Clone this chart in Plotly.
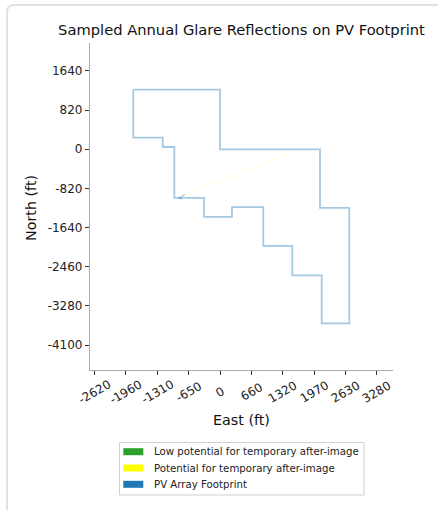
import plotly.graph_objects as go

# ---- data (feet) ----
fp_east = [-1815, 0, 0, 2093, 2093, 2706, 2706, 2129, 2129, 1513, 1513, 906, 906, 251, 251,
           -335, -335, -956, -956, -1199, -1199, -1815, -1815]
fp_north = [1249, 1249, 0, 0, -1228, -1228, -3646, -3646, -2642, -2642, -2023, -2023, -1213,
            -1213, -1416, -1416, -1019, -1019, 48, 48, 245, 245, 1249]

glare_east = [-837, 1528]
glare_north = [-998, -56]

mark_east = [-733, -873, -790]
mark_north = [-941, -1031, -1040]

x_tickvals = [-2624.67, -1968.5, -1312.34, -656.17, 0, 656.17, 1312.34, 1968.5, 2624.67, 3280.84]
x_ticktext = ["-2620", "-1960", "-1310", "-650", "0", "660", "1320", "1970", "2630", "3280"]
y_tickvals = [-4101.05, -3280.84, -2460.63, -1640.42, -820.21, 0, 820.21, 1640.42]
y_ticktext = ["-4100", "-3280", "-2460", "-1640", "-820", "0", "820", "1640"]

legend_names = ["Low potential for temporary after-image",
                "Potential for temporary after-image",
                "PV Array Footprint"]
legend_colors = ["#2ca02c", "#ffff00", "#1f77b4"]

FONT = "DejaVu Sans"
W, H = 438, 510
L, R, T, B = 90, 393, 43, 370  # plot area in pixels


def px(xp):
    return (xp - L) / (R - L)


def py(yp):
    return (B - yp) / (B - T)


fig = go.Figure()
fig.add_trace(go.Scatter(x=glare_east, y=glare_north, mode="lines",
                         line=dict(color="rgba(255,255,0,0.15)", width=1),
                         showlegend=False, hoverinfo="skip"))
fig.add_trace(go.Scatter(x=fp_east, y=fp_north, mode="lines", name="PV Array Footprint",
                         line=dict(color="rgba(31,119,180,0.4)", width=1.8),
                         showlegend=False))
fig.add_trace(go.Scatter(x=mark_east, y=mark_north, mode="lines",
                         line=dict(color="rgba(31,119,180,0.4)", width=1.2),
                         showlegend=False, hoverinfo="skip"))

annotations = []
shapes = []
for v, t in zip(x_tickvals, x_ticktext):
    annotations.append(dict(x=v, xref="x", y=py(391.5), yref="paper", text=t,
                            showarrow=False, textangle=-30, xanchor="center",
                            yanchor="middle", font=dict(family=FONT, size=12, color="#222")))
annotations.append(dict(x=px(31), y=py(208), xref="paper", yref="paper", text="North (ft)",
                        textangle=-90, showarrow=False, xanchor="center", yanchor="middle",
                        font=dict(family=FONT, size=14.3, color="#111")))
annotations.append(dict(x=0.5, y=py(420), xref="paper", yref="paper", text="East (ft)",
                        showarrow=False, xanchor="center", yanchor="middle",
                        font=dict(family=FONT, size=14.3, color="#111")))

# card outline
card = (f"M {px(7)},{py(520)} L {px(7)},{py(12)} Q {px(7)},{py(5)} {px(14)},{py(5)} "
        f"L {px(450)},{py(5)}")
shapes.append(dict(type="path", xref="paper", yref="paper", path=card,
                   line=dict(color="#e2e2e2", width=2)))

# legend (box, patches, labels)
lx0, lx1, ly0, ly1 = 119.5, 364, 442.5, 495
shapes.append(dict(type="rect", xref="paper", yref="paper",
                   x0=px(lx0), x1=px(lx1), y0=py(ly1), y1=py(ly0),
                   line=dict(color="#d0d0d0", width=1), fillcolor="white"))
for i, (name, col) in enumerate(zip(legend_names, legend_colors)):
    yc = 451.7 + 16.3 * i
    shapes.append(dict(type="rect", xref="paper", yref="paper",
                       x0=px(123.3), x1=px(143.3), y0=py(yc + 3.5), y1=py(yc - 3.5),
                       line=dict(width=0), fillcolor=col))
    annotations.append(dict(x=px(151.5), y=py(yc), xref="paper", yref="paper", text=name,
                            showarrow=False, xanchor="left", yanchor="middle",
                            font=dict(family=FONT, size=10.2, color="#222")))

fig.update_layout(
    width=W, height=H,
    margin=dict(l=L, r=W - R, t=T, b=H - B, autoexpand=False),
    paper_bgcolor="white", plot_bgcolor="white",
    font=dict(family=FONT, color="#222"),
    title=dict(text="Sampled Annual Glare Reflections on PV Footprint",
               x=0.5, xref="paper", y=1 - 30 / H, yref="container",
               xanchor="center", yanchor="middle",
               font=dict(family=FONT, size=14.7, color="#111")),
    xaxis=dict(range=[-2721, 3621], tickvals=x_tickvals, ticktext=x_ticktext,
               showticklabels=False, ticks="outside", ticklen=4, tickcolor="#333",
               showline=True, linecolor="#aaaaaa", linewidth=1.2, mirror=False,
               showgrid=False, zeroline=False),
    yaxis=dict(range=[-4623, 2226], tickvals=y_tickvals, ticktext=y_ticktext,
               ticks="outside", ticklen=4, tickcolor="#333",
               tickfont=dict(family=FONT, size=12, color="#222"),
               showline=True, linecolor="#aaaaaa", linewidth=1.2, mirror=False,
               showgrid=False, zeroline=False),
    annotations=annotations,
    shapes=shapes,
    showlegend=False,
)

fig.write_html("out.html", config={"displayModeBar": False},
               post_script="document.body.style.margin='0';document.body.style.padding='0';")
